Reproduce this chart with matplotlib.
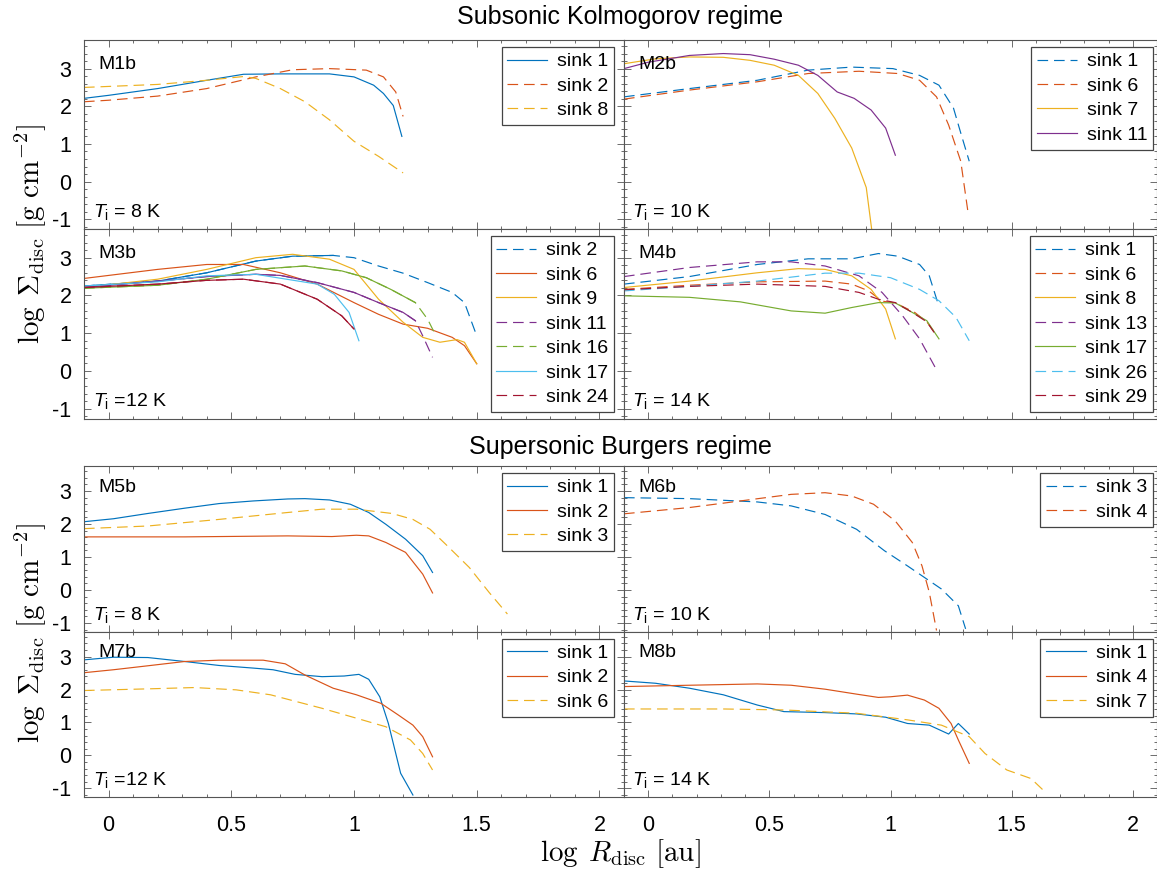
import numpy as np
import matplotlib
matplotlib.use('Agg')
import matplotlib.pyplot as plt
from matplotlib.ticker import MultipleLocator

plt.rcParams['font.family'] = ['Liberation Sans', 'DejaVu Sans']
plt.rcParams['mathtext.fontset'] = 'custom'
plt.rcParams['mathtext.rm'] = 'Liberation Sans'
plt.rcParams['mathtext.it'] = 'Liberation Sans:italic'
plt.rcParams['axes.unicode_minus'] = False

# MATLAB default colour order
blue, orange, yellow, purple = '#0072BD', '#D95319', '#EDB120', '#7E2F8E'
green, cyan, darkred = '#77AC30', '#4DBEEE', '#A2142F'

# ---- M1b ----
m1b_sink1_x = [-0.1, 0.0, 0.2, 0.4, 0.55, 0.7, 0.9, 1.0, 1.08, 1.12, 1.16, 1.195]
m1b_sink1_y = [2.21, 2.29, 2.47, 2.69, 2.85, 2.86, 2.86, 2.78, 2.56, 2.34, 2.02, 1.2]
m1b_sink2_x = [-0.1, 0.0, 0.2, 0.4, 0.6, 0.75, 0.9, 1.05, 1.12, 1.17, 1.2]
m1b_sink2_y = [2.12, 2.16, 2.27, 2.47, 2.78, 2.97, 3.0, 2.96, 2.78, 2.38, 1.73]
m1b_sink8_x = [-0.1, 0.2, 0.4, 0.55, 0.6, 0.7, 0.8, 0.9, 1.0, 1.1, 1.2]
m1b_sink8_y = [2.5, 2.58, 2.69, 2.79, 2.74, 2.47, 2.12, 1.64, 1.07, 0.67, 0.23]

# ---- M2b ----
m2b_sink1_x = [-0.1, 0.17, 0.45, 0.66, 0.84, 1.01, 1.12, 1.2, 1.26, 1.29, 1.325]
m2b_sink1_y = [2.25, 2.47, 2.69, 2.96, 3.04, 3.0, 2.82, 2.56, 1.95, 1.29, 0.54]
m2b_sink6_x = [-0.1, 0.17, 0.45, 0.66, 0.87, 1.03, 1.12, 1.19, 1.24, 1.29, 1.32]
m2b_sink6_y = [2.19, 2.43, 2.65, 2.87, 2.93, 2.87, 2.69, 2.25, 1.5, 0.54, -0.82]
m2b_sink7_x = [-0.1, 0.03, 0.17, 0.31, 0.42, 0.52, 0.62, 0.70, 0.77, 0.84, 0.90, 0.923]
m2b_sink7_y = [3.13, 3.26, 3.31, 3.30, 3.22, 3.09, 2.82, 2.34, 1.68, 0.89, -0.16, -1.3]
m2b_sink11_x = [-0.1, 0.0, 0.17, 0.31, 0.42, 0.52, 0.62, 0.70, 0.78, 0.85, 0.92, 0.98, 1.02]
m2b_sink11_y = [3.0, 3.17, 3.35, 3.40, 3.37, 3.25, 3.09, 2.82, 2.38, 2.21, 1.9, 1.42, 0.7]

# ---- M3b ----
m3b_sink2_x = [-0.1, 0.2, 0.4, 0.6, 0.75, 0.915, 1.0, 1.1, 1.2, 1.3, 1.4, 1.45, 1.5]
m3b_sink2_y = [2.25, 2.38, 2.6, 2.91, 3.04, 3.06, 3.0, 2.78, 2.59, 2.34, 2.08, 1.81, 0.93]
m3b_sink6_x = [-0.1, 0.2, 0.4, 0.55, 0.7, 0.85, 1.0, 1.1, 1.2, 1.3, 1.4, 1.45, 1.5]
m3b_sink6_y = [2.45, 2.69, 2.82, 2.82, 2.6, 2.3, 1.81, 1.5, 1.24, 1.13, 0.89, 0.67, 0.19]
m3b_sink9_x = [-0.1, 0.2, 0.4, 0.6, 0.75, 0.9, 1.0, 1.1, 1.2, 1.28, 1.35, 1.42, 1.45, 1.5]
m3b_sink9_y = [2.21, 2.43, 2.69, 3.0, 3.09, 2.96, 2.69, 1.9, 1.29, 0.89, 0.76, 0.83, 0.76, 0.19]
m3b_sink11_x = [-0.1, 0.2, 0.4, 0.6, 0.7, 0.85, 1.0, 1.1, 1.2, 1.25, 1.28, 1.32]
m3b_sink11_y = [2.21, 2.38, 2.5, 2.56, 2.53, 2.34, 2.08, 1.81, 1.55, 1.33, 0.93, 0.36]
m3b_sink16_x = [-0.1, 0.2, 0.4, 0.6, 0.8, 0.95, 1.05, 1.15, 1.25, 1.3, 1.33]
m3b_sink16_y = [2.19, 2.27, 2.43, 2.69, 2.78, 2.65, 2.47, 2.16, 1.81, 1.37, 0.98]
m3b_sink17_x = [-0.1, 0.2, 0.4, 0.6, 0.85, 0.92, 0.98, 1.02]
m3b_sink17_y = [2.25, 2.36, 2.52, 2.56, 2.3, 2.03, 1.55, 0.8]
m3b_sink24_x = [-0.1, 0.2, 0.4, 0.55, 0.7, 0.85, 0.95, 1.0]
m3b_sink24_y = [2.21, 2.3, 2.4, 2.43, 2.3, 1.9, 1.46, 1.11]
# dashed curves that render solid over their densely sampled inner part
m3b_solid_until = {'sink 2': 0.92, 'sink 11': 1.25, 'sink 16': 1.25, 'sink 24': 1.0}

# ---- M4b ----
m4b_sink1_x = [-0.1, 0.17, 0.45, 0.66, 0.84, 0.95, 1.03, 1.12, 1.16, 1.195]
m4b_sink1_y = [2.3, 2.5, 2.82, 2.97, 2.97, 3.11, 3.04, 2.82, 2.52, 1.81]
m4b_sink6_x = [-0.1, 0.17, 0.45, 0.73, 0.84, 0.91, 0.965, 1.02, 1.1, 1.15, 1.19]
m4b_sink6_y = [2.16, 2.27, 2.36, 2.38, 2.3, 2.12, 1.85, 1.8, 1.55, 1.3, 0.95]
m4b_sink8_x = [-0.1, 0.17, 0.45, 0.62, 0.73, 0.84, 0.92, 0.98, 1.02]
m4b_sink8_y = [2.21, 2.38, 2.6, 2.71, 2.69, 2.52, 2.16, 1.64, 0.85]
m4b_sink13_x = [-0.1, 0.17, 0.45, 0.59, 0.73, 0.87, 0.965, 1.05, 1.12, 1.195]
m4b_sink13_y = [2.5, 2.74, 2.89, 2.89, 2.78, 2.52, 2.08, 1.46, 0.85, -0.03]
m4b_sink17_x = [-0.1, 0.17, 0.38, 0.59, 0.73, 0.84, 0.95, 1.02, 1.09, 1.15, 1.2]
m4b_sink17_y = [1.99, 1.95, 1.83, 1.59, 1.53, 1.68, 1.81, 1.8, 1.55, 1.33, 0.85]
m4b_sink26_x = [-0.1, 0.17, 0.45, 0.73, 0.87, 1.0, 1.12, 1.2, 1.27, 1.325]
m4b_sink26_y = [2.12, 2.24, 2.38, 2.59, 2.59, 2.47, 2.16, 1.86, 1.42, 0.8]
m4b_sink29_x = [-0.1, 0.17, 0.45, 0.73, 0.87, 0.95, 1.02, 1.09, 1.15, 1.18]
m4b_sink29_y = [2.15, 2.24, 2.3, 2.24, 2.08, 1.9, 1.81, 1.55, 1.3, 1.02]

# ---- M5b ----
m5b_sink1_x = [-0.1, 0.02, 0.16, 0.31, 0.45, 0.59, 0.73, 0.8, 0.9, 0.985, 1.06, 1.13, 1.21, 1.28, 1.32]
m5b_sink1_y = [2.07, 2.16, 2.32, 2.48, 2.62, 2.7, 2.76, 2.77, 2.73, 2.6, 2.35, 1.99, 1.54, 1.04, 0.53]
m5b_sink2_x = [-0.1, 0.31, 0.73, 0.91, 1.01, 1.06, 1.13, 1.21, 1.28, 1.32]
m5b_sink2_y = [1.61, 1.61, 1.64, 1.62, 1.66, 1.64, 1.44, 1.14, 0.48, -0.09]
m5b_sink3_x = [-0.1, 0.16, 0.45, 0.73, 0.87, 1.01, 1.155, 1.24, 1.31, 1.38, 1.47, 1.55, 1.625]
m5b_sink3_y = [1.86, 1.94, 2.14, 2.35, 2.45, 2.45, 2.32, 2.14, 1.84, 1.34, 0.68, -0.07, -0.73]

# ---- M6b ----
m6b_sink3_x = [-0.1, 0.17, 0.45, 0.59, 0.73, 0.86, 0.975, 1.07, 1.14, 1.21, 1.28, 1.31]
m6b_sink3_y = [2.8, 2.77, 2.67, 2.55, 2.29, 1.84, 1.19, 0.73, 0.38, 0.03, -0.48, -1.18]
m6b_sink4_x = [-0.1, 0.17, 0.38, 0.59, 0.73, 0.84, 0.93, 1.02, 1.09, 1.13, 1.16, 1.19]
m6b_sink4_y = [2.31, 2.5, 2.7, 2.9, 2.95, 2.85, 2.6, 2.09, 1.44, 0.73, -0.07, -1.23]

# ---- M7b ----
m7b_sink1_x = [-0.1, 0.02, 0.16, 0.31, 0.45, 0.59, 0.67, 0.76, 0.87, 0.96, 1.02, 1.06, 1.105, 1.14, 1.19, 1.24]
m7b_sink1_y = [2.9, 2.98, 2.97, 2.85, 2.73, 2.65, 2.6, 2.46, 2.39, 2.41, 2.46, 2.31, 1.78, 0.97, -0.54, -1.2]
m7b_sink2_x = [-0.1, 0.02, 0.16, 0.31, 0.45, 0.63, 0.72, 0.8, 0.915, 1.01, 1.11, 1.18, 1.24, 1.28, 1.32]
m7b_sink2_y = [2.51, 2.6, 2.72, 2.85, 2.89, 2.89, 2.78, 2.44, 2.04, 1.84, 1.58, 1.23, 0.92, 0.57, -0.04]
m7b_sink6_x = [-0.1, 0.16, 0.35, 0.52, 0.66, 0.87, 1.01, 1.13, 1.23, 1.28, 1.32]
m7b_sink6_y = [1.97, 2.02, 2.06, 1.99, 1.84, 1.43, 1.13, 0.87, 0.47, 0.06, -0.44]

# ---- M8b ----
m8b_sink1_x = [-0.1, 0.03, 0.17, 0.31, 0.45, 0.56, 0.73, 0.86, 0.98, 1.07, 1.16, 1.24, 1.28, 1.325]
m8b_sink1_y = [2.26, 2.19, 2.04, 1.84, 1.53, 1.33, 1.3, 1.26, 1.16, 0.97, 0.92, 0.65, 0.97, 0.65]
m8b_sink4_x = [-0.1, 0.17, 0.45, 0.59, 0.73, 0.86, 0.95, 1.0, 1.07, 1.14, 1.2, 1.25, 1.28, 1.325]
m8b_sink4_y = [2.09, 2.13, 2.17, 2.13, 2.01, 1.86, 1.76, 1.78, 1.83, 1.68, 1.43, 0.97, 0.47, -0.24]
m8b_sink7_x = [-0.1, 0.31, 0.56, 0.86, 1.07, 1.21, 1.325, 1.39, 1.48, 1.58, 1.63]
m8b_sink7_y = [1.41, 1.41, 1.38, 1.28, 1.08, 0.92, 0.57, 0.06, -0.44, -0.7, -1.05]

panel_names = ['M1b', 'M2b', 'M3b', 'M4b', 'M5b', 'M6b', 'M7b', 'M8b']
temp_labels = ['8', '10', '12', '14', '8', '10', '12', '14']
temp_sep = [' = ', ' = ', ' =', ' = ', ' = ', ' = ', ' =', ' = ']

panels = {
    'M1b': [('sink 1', m1b_sink1_x, m1b_sink1_y, blue, '-'),
            ('sink 2', m1b_sink2_x, m1b_sink2_y, orange, '--'),
            ('sink 8', m1b_sink8_x, m1b_sink8_y, yellow, '--')],
    'M2b': [('sink 1', m2b_sink1_x, m2b_sink1_y, blue, '--'),
            ('sink 6', m2b_sink6_x, m2b_sink6_y, orange, '--'),
            ('sink 7', m2b_sink7_x, m2b_sink7_y, yellow, '-'),
            ('sink 11', m2b_sink11_x, m2b_sink11_y, purple, '-')],
    'M3b': [('sink 2', m3b_sink2_x, m3b_sink2_y, blue, '--'),
            ('sink 6', m3b_sink6_x, m3b_sink6_y, orange, '-'),
            ('sink 9', m3b_sink9_x, m3b_sink9_y, yellow, '-'),
            ('sink 11', m3b_sink11_x, m3b_sink11_y, purple, '--'),
            ('sink 16', m3b_sink16_x, m3b_sink16_y, green, '--'),
            ('sink 17', m3b_sink17_x, m3b_sink17_y, cyan, '-'),
            ('sink 24', m3b_sink24_x, m3b_sink24_y, darkred, '--')],
    'M4b': [('sink 1', m4b_sink1_x, m4b_sink1_y, blue, '--'),
            ('sink 6', m4b_sink6_x, m4b_sink6_y, orange, '--'),
            ('sink 8', m4b_sink8_x, m4b_sink8_y, yellow, '-'),
            ('sink 13', m4b_sink13_x, m4b_sink13_y, purple, '--'),
            ('sink 17', m4b_sink17_x, m4b_sink17_y, green, '-'),
            ('sink 26', m4b_sink26_x, m4b_sink26_y, cyan, '--'),
            ('sink 29', m4b_sink29_x, m4b_sink29_y, darkred, '--')],
    'M5b': [('sink 1', m5b_sink1_x, m5b_sink1_y, blue, '-'),
            ('sink 2', m5b_sink2_x, m5b_sink2_y, orange, '-'),
            ('sink 3', m5b_sink3_x, m5b_sink3_y, yellow, '--')],
    'M6b': [('sink 3', m6b_sink3_x, m6b_sink3_y, blue, '--'),
            ('sink 4', m6b_sink4_x, m6b_sink4_y, orange, '--')],
    'M7b': [('sink 1', m7b_sink1_x, m7b_sink1_y, blue, '-'),
            ('sink 2', m7b_sink2_x, m7b_sink2_y, orange, '-'),
            ('sink 6', m7b_sink6_x, m7b_sink6_y, yellow, '--')],
    'M8b': [('sink 1', m8b_sink1_x, m8b_sink1_y, blue, '-'),
            ('sink 4', m8b_sink4_x, m8b_sink4_y, orange, '-'),
            ('sink 7', m8b_sink7_x, m8b_sink7_y, yellow, '--')],
}

W, H = 1157, 871
fig = plt.figure(figsize=(W / 100, H / 100), dpi=100)

cols = [(84, 624), (624, 1157)]
rows = [(40, 229), (229, 418.5), (466, 631.5), (631.5, 797)]
frame = '#555555'
lw = 0.85

for i, name in enumerate(panel_names):
    r, c = i // 2, i % 2
    x0, x1 = cols[c]
    y0, y1 = rows[r]
    ax = fig.add_axes([x0 / W, 1 - y1 / H, (x1 - x0) / W, (y1 - y0) / H])

    for label, xs, ys, color, ls in panels[name]:
        if ls == '--':
            ax.plot(xs, ys, '--', color=color, lw=lw, label=label, dashes=(9, 5))
        else:
            ax.plot(xs, ys, '-', color=color, lw=lw, label=label)
        if name == 'M3b' and label in m3b_solid_until:
            xa, ya = np.array(xs), np.array(ys)
            m = xa <= m3b_solid_until[label]
            ax.plot(xa[m], ya[m], '-', color=color, lw=lw)

    ax.set_xlim(-0.1, 2.1)
    ax.set_ylim(-1.26, 3.76)
    ax.xaxis.set_major_locator(MultipleLocator(0.5))
    ax.xaxis.set_minor_locator(MultipleLocator(0.1))
    ax.yaxis.set_major_locator(MultipleLocator(1))
    ax.yaxis.set_minor_locator(MultipleLocator(0.2))
    ax.tick_params(which='both', direction='in', top=True, right=True, color=frame, width=0.6)
    ax.tick_params(which='major', length=5, labelsize=15.5)
    ax.tick_params(which='minor', length=2.5)
    ax.tick_params(axis='y', pad=9)
    ax.tick_params(axis='x', pad=13)
    for s in ax.spines.values():
        s.set_color(frame)
        s.set_linewidth(0.8)
    if c == 1:
        ax.set_yticklabels([])
    if r != 3:
        ax.set_xticklabels([])
    else:
        ax.set_xticks([0, 0.5, 1, 1.5, 2])
        ax.set_xticklabels(['0', '0.5', '1', '1.5', '2'])

    ax.text(-0.04, 3.12, name, fontsize=14, va='center', ha='left')
    ax.text(-0.065, -0.8 if r in (0, 1) else -0.75,
            r'$\mathit{T}_{\mathrm{i}}$' + temp_sep[i] + temp_labels[i] + ' K',
            fontsize=14, va='center', ha='left')

    pad_x = 1 - (10 / (x1 - x0) if c == 0 else 4 / (x1 - x0))
    leg = ax.legend(loc='upper right', bbox_to_anchor=(pad_x, 1 - 7 / (y1 - y0)),
                    borderaxespad=0.0, fontsize=14, handlelength=2.05,
                    handletextpad=0.5, labelspacing=0.35, borderpad=0.3,
                    fancybox=False, framealpha=1)
    leg.get_frame().set_edgecolor('#444444')
    leg.get_frame().set_linewidth(0.9)

fig.text(620 / W, 1 - 17 / H, 'Subsonic Kolmogorov regime', fontsize=18, ha='center', va='center')
fig.text(620 / W, 1 - 447 / H, 'Supersonic Burgers regime', fontsize=18, ha='center', va='center')

ylab = r'$\log\;\Sigma_{\rm disc}\ [{\rm g\ cm}^{-2}]$'
fig.text(30 / W, 1 - 234 / H, ylab, rotation=90, fontsize=21, ha='center', va='center', math_fontfamily='cm')
fig.text(30 / W, 1 - 633 / H, ylab, rotation=90, fontsize=21, ha='center', va='center', math_fontfamily='cm')
fig.text(620 / W, 1 - 854 / H, r'$\log\;R_{\rm disc}\ [{\rm au}]$', fontsize=21, ha='center', va='center', math_fontfamily='cm')

fig.savefig('out.png', dpi=100)
